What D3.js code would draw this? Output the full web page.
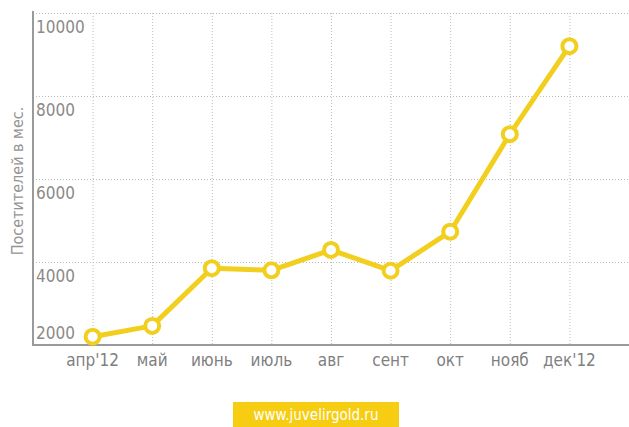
<!DOCTYPE html>
<html>
<head>
<meta charset="utf-8">
<script src="https://cdn.jsdelivr.net/npm/d3@7"></script>
<style>
  body { margin: 0; background: #fff; }
  text { font-family: "Liberation Sans Narrow", "DejaVu Sans Condensed", sans-serif; }
</style>
</head>
<body>
<svg></svg>
<script>
const width = 629;
const height = 427;

const months = ["апр'12", "май", "июнь", "июль", "авг", "сент", "окт", "нояб", "дек'12"];
const visitors = [2200, 2460, 3850, 3800, 4290, 3790, 4730, 7080, 9200];
const yTicks = [2000, 4000, 6000, 8000, 10000];
const yTitle = "Посетителей в мес.";
const site = "www.juvelirgold.ru";

const plotLeft = 33, plotRight = 629, plotTop = 13, plotBottom = 345;
const yellow = "#f2cf1f";

const svg = d3.select('svg')
  .attr('width', width)
  .attr('height', height);

const x = d3.scalePoint()
  .domain(months)
  .range([plotLeft, plotRight])
  .padding(1);

const y = d3.scaleLinear()
  .domain([2000, 10000])
  .range([plotBottom, plotTop]);

// dotted grid
svg.append('g')
  .selectAll('line')
  .data(yTicks.slice(1))
  .enter().append('line')
    .attr('x1', plotLeft).attr('x2', plotRight)
    .attr('y1', d => y(d) + 0.5).attr('y2', d => y(d) + 0.5)
    .attr('stroke', '#bdbdbd')
    .attr('stroke-dasharray', '1,2');

svg.append('g')
  .selectAll('line')
  .data(months)
  .enter().append('line')
    .attr('x1', d => x(d) + 0.5).attr('x2', d => x(d) + 0.5)
    .attr('y1', plotTop).attr('y2', plotBottom)
    .attr('stroke', '#bdbdbd')
    .attr('stroke-dasharray', '1,2');

// axes lines
svg.append('line')
  .attr('x1', plotLeft).attr('x2', plotLeft)
  .attr('y1', plotTop - 2).attr('y2', plotBottom + 1)
  .attr('stroke', '#9a9a9a').attr('stroke-width', 2);
svg.append('line')
  .attr('x1', plotLeft - 1).attr('x2', plotRight)
  .attr('y1', plotBottom).attr('y2', plotBottom)
  .attr('stroke', '#9a9a9a').attr('stroke-width', 2);

// y tick labels sit just under their gridline, the last one above the axis
svg.append('g')
  .selectAll('text')
  .data(yTicks)
  .enter().append('text')
    .text(d => d)
    .attr('x', plotLeft + 3)
    .attr('y', d => Math.min(y(d) + 20, plotBottom - 6))
    .attr('font-size', 17)
    .attr('fill', '#8a8a8a');

// x tick labels
svg.append('g')
  .selectAll('text')
  .data(months)
  .enter().append('text')
    .text(d => d)
    .attr('x', d => x(d))
    .attr('y', plotBottom + 21)
    .attr('text-anchor', 'middle')
    .attr('font-size', 17)
    .attr('fill', '#7f7f7f');

svg.append('text')
  .text(yTitle)
  .attr('transform', 'translate(23,181) rotate(-90)')
  .attr('text-anchor', 'middle')
  .attr('font-size', 16)
  .attr('fill', '#959595');

// series
const line = d3.line()
  .x((d, i) => x(months[i]))
  .y(d => y(d));

svg.append('path')
  .datum(visitors)
  .attr('d', line)
  .attr('fill', 'none')
  .attr('stroke', yellow)
  .attr('stroke-width', 5)
  .attr('stroke-linejoin', 'round');

svg.append('g')
  .selectAll('circle')
  .data(visitors)
  .enter().append('circle')
    .attr('cx', (d, i) => x(months[i]))
    .attr('cy', d => y(d))
    .attr('r', 7)
    .attr('fill', '#fff')
    .attr('stroke', yellow)
    .attr('stroke-width', 4);

// watermark
svg.append('rect')
  .attr('x', 233).attr('y', 402)
  .attr('width', 166).attr('height', 25)
  .attr('fill', '#f6cd12');
svg.append('text')
  .text(site)
  .attr('x', 316).attr('y', 420)
  .attr('text-anchor', 'middle')
  .attr('font-size', 15)
  .attr('fill', '#fff');
</script>
</body>
</html>
